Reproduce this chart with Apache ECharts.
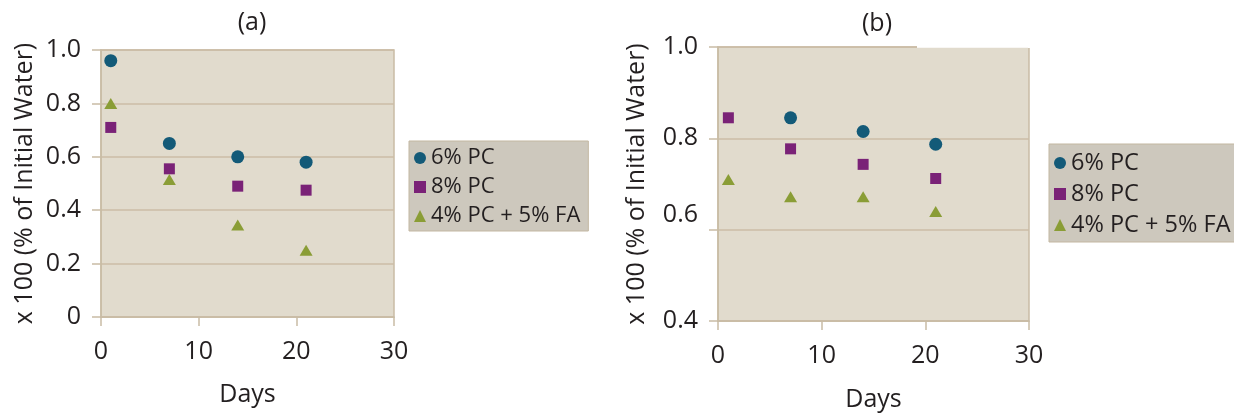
<!DOCTYPE html>
<html>
<head>
<meta charset="utf-8">
<script src="https://cdn.jsdelivr.net/npm/echarts@6/dist/echarts.min.js"></script>
<style>html,body{margin:0;padding:0;background:#fff;}#c{width:1234px;height:413px;}</style>
</head>
<body>
<div id="c"></div>
<script>
// ---- data ----
const panelTitles = ['(a)', '(b)'];
const seriesNames = ['6% PC', '8% PC', '4% PC + 5% FA'];
const xTicksA = [0, 10, 20, 30];
const yTicksA = [0, 0.2, 0.4, 0.6, 0.8, 1.0];
const yTicksB = [0.4, 0.6, 0.8, 1.0];
// panel (a)
const daysA = [1, 7, 14, 21];
const pc6A = [0.96, 0.65, 0.60, 0.58];
const pc8A = [0.71, 0.555, 0.49, 0.475];
const faA = [0.80, 0.515, 0.345, 0.25];
// panel (b)
const daysB6 = [7, 14, 21];
const pc6B = [0.845, 0.815, 0.787];
const daysB = [1, 7, 14, 21];
const pc8B = [0.845, 0.777, 0.743, 0.712];
const faB = [0.71, 0.672, 0.672, 0.64];

const FONT = '"Open Sans", sans-serif';
const TXT = '#231f20';
const colors = ['#135a78', '#7a2277', '#8a9d36'];
const symbols = ['circle', 'rect', 'triangle'];
const sizes = [13, 11, 13];

const zip = (xs, ys) => xs.map((x, i) => [x, ys[i]]);

function xAxis(gridIndex, nameGap) {
  return {
    gridIndex, type: 'value', min: 0, max: 30, interval: 10,
    name: 'Days', nameLocation: 'middle', nameGap,
    nameTextStyle: { fontFamily: FONT, fontSize: 25, color: TXT },
    axisLine: { show: true, lineStyle: { color: '#c9bca5', width: 1.5 } },
    axisTick: { show: true, length: 9, lineStyle: { color: '#c9bca5', width: 1.5 } },
    axisLabel: { fontFamily: FONT, fontSize: 25, color: TXT, margin: 22 },
    splitLine: { show: false }
  };
}
function yAxis(gridIndex, min, max, nameGap, formatter) {
  return {
    gridIndex, type: 'value', min, max, interval: 0.2,
    name: 'x 100 (% of Initial Water)', nameLocation: 'middle', nameGap,
    nameTextStyle: { fontFamily: FONT, fontSize: 25, color: TXT },
    axisLine: { show: true, lineStyle: { color: '#c9bca5', width: 1.5 } },
    axisTick: { show: true, length: 9, lineStyle: { color: '#c9bca5', width: 1.5 } },
    axisLabel: { fontFamily: FONT, fontSize: 25, color: TXT, margin: 20, formatter,
      rich: { up: { fontFamily: FONT, fontSize: 25, color: TXT, padding: [0, 0, 30, 0] } } },
    splitLine: { show: true, lineStyle: { color: '#cbbda6', width: 1.5 } }
  };
}
const fmtA = v => (v === 0 ? '0' : v.toFixed(1));
const fmtB = v => (Math.abs(v - 0.6) < 1e-9 ? '{up|0.6}' : v.toFixed(1));

function sc(name, idx, gi, data) {
  return {
    name, type: 'scatter', xAxisIndex: gi, yAxisIndex: gi, data,
    symbol: symbols[idx], symbolSize: idx === 2 ? [13, 11] : sizes[idx],
    itemStyle: { color: colors[idx], opacity: 1 }, z: 5
  };
}

function legend(left, top, w, fs, gap, pad) {
  return {
    orient: 'vertical', left, top, width: w,
    data: seriesNames.map((n, i) => ({ name: n, icon: symbols[i] })),
    itemWidth: 12, itemHeight: 12, itemGap: gap,
    backgroundColor: '#cdc8bd', borderColor: '#c3b7a1', borderWidth: 1,
    padding: pad,
    textStyle: { fontFamily: FONT, fontSize: fs, color: TXT },
    selectedMode: false
  };
}

const chart = echarts.init(document.getElementById('c'));
chart.setOption({
  animation: false,
  title: [
    { text: panelTitles[0], left: 247, top: 5, textAlign: 'center',
      textStyle: { fontFamily: FONT, fontSize: 25, fontWeight: 'normal', color: TXT } },
    { text: panelTitles[1], left: 872, top: 6, textAlign: 'center',
      textStyle: { fontFamily: FONT, fontSize: 25, fontWeight: 'normal', color: TXT } }
  ],
  grid: [
    { left: 101, top: 50, width: 293, height: 267, containLabel: false, outerBoundsMode: 'none',
      show: true, backgroundColor: '#e1dbcd', borderColor: '#c9bca5', borderWidth: 1.5 },
    { left: 718, top: 47, width: 311, height: 274, containLabel: false, outerBoundsMode: 'none',
      show: true, backgroundColor: '#e1dbcd', borderColor: '#c9bca5', borderWidth: 1.5 }
  ],
  xAxis: [xAxis(0, 65), xAxis(1, 66)],
  yAxis: [yAxis(0, 0, 1.0, 64, fmtA), yAxis(1, 0.4, 1.0, 69, fmtB)],
  legend: [
    legend(409, 141, 182, 22, 7, [6, 8, 4, 5]),
    legend(1049, 144, 200, 23.5, 7, [7, 20, 5, 5])
  ],
  series: [
    sc(seriesNames[0], 0, 0, zip(daysA, pc6A)),
    sc(seriesNames[1], 1, 0, zip(daysA, pc8A)),
    sc(seriesNames[2], 2, 0, zip(daysA, faA)),
    sc(seriesNames[0], 0, 1, zip(daysB6, pc6B)),
    sc(seriesNames[1], 1, 1, zip(daysB, pc8B)),
    sc(seriesNames[2], 2, 1, zip(daysB, faB))
  ],
  graphic: [
    { type: 'rect', shape: { x: 917, y: 45, width: 113, height: 3 }, style: { fill: '#ffffff' }, z: 100 },
    { type: 'rect', shape: { x: 917, y: 47.8, width: 111, height: 1.5 }, style: { fill: '#e1dbcd' }, z: 100 }
  ]
});
</script>
</body>
</html>
